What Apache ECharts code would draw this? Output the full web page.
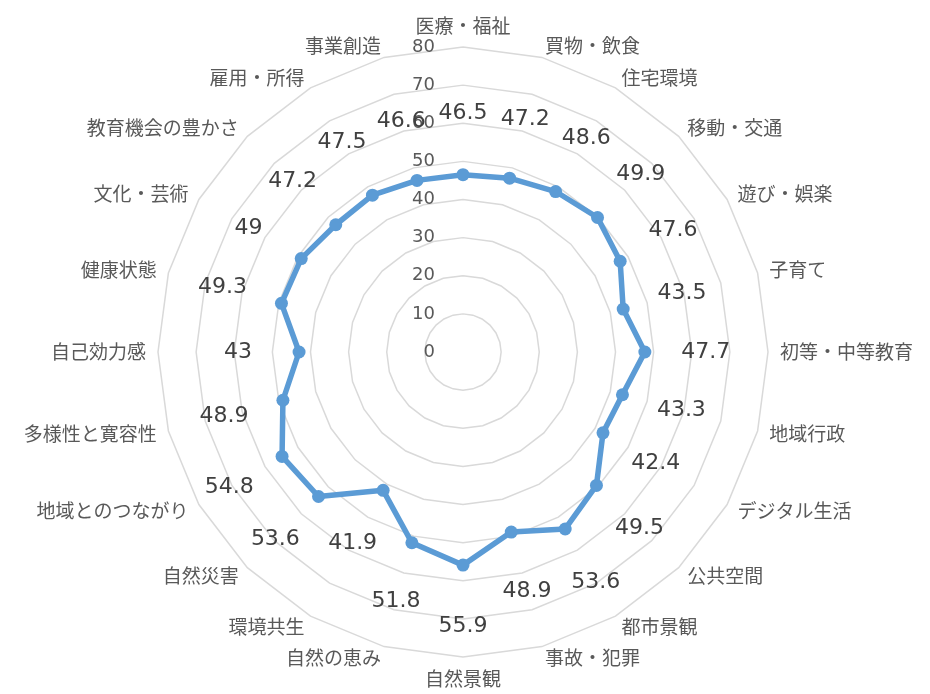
<!DOCTYPE html>
<html>
<head>
<meta charset="utf-8">
<script src="https://cdn.jsdelivr.net/npm/echarts@6/dist/echarts.min.js"></script>
<style>
html,body{margin:0;padding:0;background:#fff;}
#chart{width:930px;height:694px;}
</style>
</head>
<body>
<div id="chart"></div>
<script>
// listed clockwise from the top
const categories = ['医療・福祉','買物・飲食','住宅環境','移動・交通','遊び・娯楽','子育て','初等・中等教育','地域行政','デジタル生活','公共空間','都市景観','事故・犯罪','自然景観','自然の恵み','環境共生','自然災害','地域とのつながり','多様性と寛容性','自己効力感','健康状態','文化・芸術','教育機会の豊かさ','雇用・所得','事業創造'];
const values = [46.5,47.2,48.6,49.9,47.6,43.5,47.7,43.3,42.4,49.5,53.6,48.9,55.9,51.8,41.9,53.6,54.8,48.9,43,49.3,49,47.2,47.5,46.6];
const axisMin = 0, axisMax = 80, axisStep = 10;
const labelOffset = 16; // radial offset of the value labels, in axis units

// ECharts lays radar axes counter-clockwise; reorder so the chart reads clockwise
const order = [0].concat(categories.map((_, i) => i).slice(1).reverse());
const cats = order.map(i => categories[i]);
const vals = order.map(i => values[i]);

const FONT = '"Noto Sans CJK JP", "Noto Sans", sans-serif';
const NUMFONT = '"DejaVu Sans", sans-serif';
const chart = echarts.init(document.getElementById('chart'), null, {renderer:'canvas'});

const indicator = cats.map((c, i) => {
  const o = {name: c, min: axisMin, max: axisMax};
  if (i === 0) o.axisLabel = {show: true};
  return o;
});

chart.setOption({
  animation: false,
  backgroundColor: '#fff',
  radar: {
    center: [463, 352],
    radius: 305,
    startAngle: 90,
    shape: 'polygon',
    splitNumber: (axisMax - axisMin) / axisStep,
    indicator: indicator,
    nameGap: 12,
    axisName: {color: '#595959', fontSize: 19, fontFamily: FONT},
    axisLine: {show: false},
    axisTick: {show: false},
    axisLabel: {show: false, color: '#595959', fontSize: 18, fontFamily: NUMFONT, margin: 28, showMinLabel: true, showMaxLabel: true},
    splitLine: {lineStyle: {color: '#d9d9d9', width: 1.5}},
    splitArea: {show: false}
  },
  series: [
    {
      type: 'radar',
      z: 3,
      symbol: 'circle',
      symbolSize: 13,
      lineStyle: {color: '#5b9bd5', width: 5.5},
      itemStyle: {color: '#5b9bd5'},
      data: [{value: vals}]
    },
    {
      type: 'radar',
      z: 4,
      silent: true,
      symbol: 'circle',
      symbolSize: 1,
      lineStyle: {opacity: 0, width: 0},
      itemStyle: {color: 'rgba(0,0,0,0)'},
      label: {
        show: true,
        position: 'inside',
        color: '#404040',
        fontSize: 22,
        fontFamily: NUMFONT,
        formatter: p => String(vals[p.dimensionIndex])
      },
      data: [{value: vals.map(v => v + labelOffset)}]
    }
  ]
});
</script>
</body>
</html>
